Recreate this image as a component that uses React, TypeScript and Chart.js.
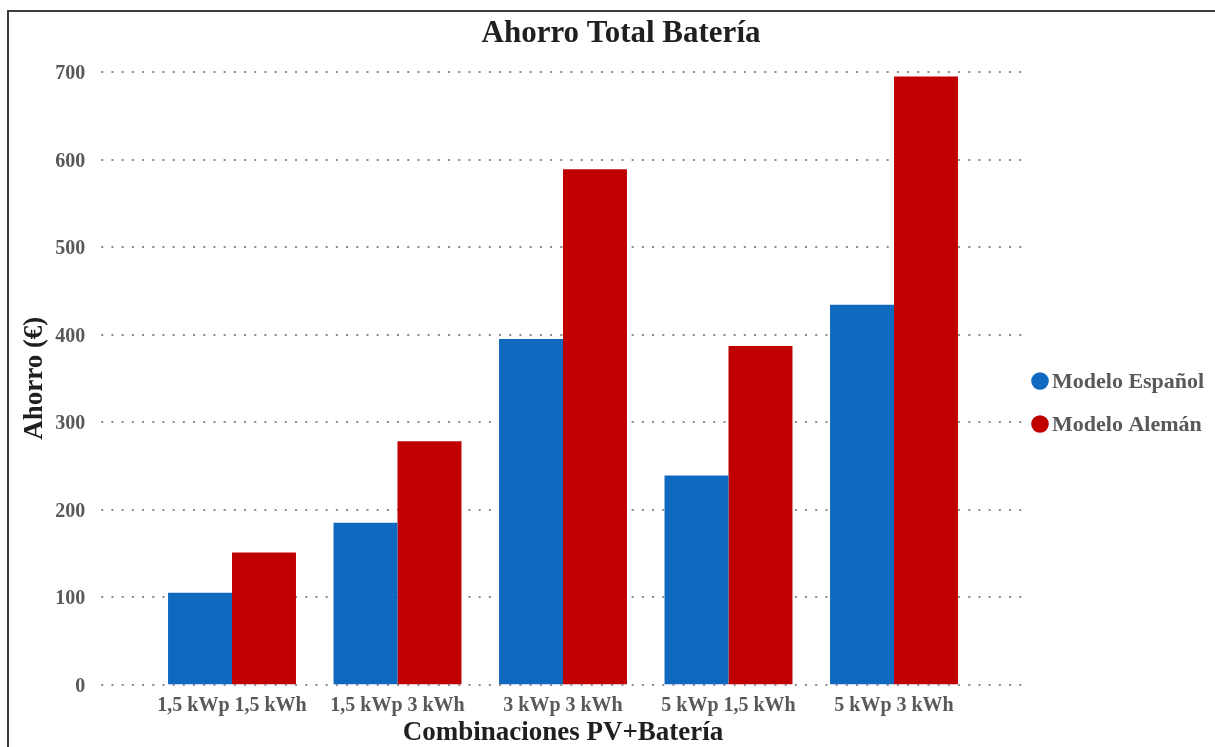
import React, { useEffect, useRef } from "react";
import { Chart, registerables } from "chart.js";

Chart.register(...registerables);

// Savings per PV + battery combination, in euros
const categories = [
  "1,5 kWp 1,5 kWh",
  "1,5 kWp 3 kWh",
  "3 kWp 3 kWh",
  "5 kWp 1,5 kWh",
  "5 kWp 3 kWh",
];
const modeloEspanol = [105, 185, 395, 239, 434];
const modeloAleman = [151, 278, 589, 387, 695];
const seriesLabels = ["Modelo Español", "Modelo Alemán"];
const seriesColors = ["#0F69BF", "#C00000"];
const chartTitle = "Ahorro Total Batería";

const FONT = "'Liberation Serif', 'Times New Roman', serif";
const TICK_COLOR = "#595959";
const TITLE_COLOR = "#1f1f1f";

// Dotted horizontal guides that run a little past the plotting area
const dottedGrid = {
  id: "dottedGrid",
  drawLine(chart: any, value: number) {
    const { ctx, chartArea, scales } = chart;
    const y = Math.round(scales.y.getPixelForValue(value));
    ctx.save();
    ctx.strokeStyle = "#8c8c8c";
    ctx.lineWidth = 2;
    ctx.setLineDash([2, 8.2]);
    ctx.beginPath();
    ctx.moveTo(chartArea.left - 48, y);
    ctx.lineTo(chartArea.right + 49, y);
    ctx.stroke();
    ctx.restore();
  },
  beforeDatasetsDraw(chart: any) {
    chart.scales.y.ticks.forEach((t: any) => {
      if (t.value !== 0) this.drawLine(chart, t.value);
    });
  },
  afterDatasetsDraw(chart: any) {
    this.drawLine(chart, 0);
  },
};

// Title centred over the whole figure, legend column on the right
const headerAndLegend = {
  id: "headerAndLegend",
  afterDraw(chart: any) {
    const { ctx } = chart;
    ctx.save();
    ctx.fillStyle = TITLE_COLOR;
    ctx.font = `bold 31px ${FONT}`;
    ctx.textAlign = "center";
    ctx.textBaseline = "middle";
    ctx.fillText(chartTitle, 621, 33.5);

    const x = 1040;
    const rows = [381, 424];
    chart.data.datasets.forEach((ds: any, i: number) => {
      const y = rows[i];
      ctx.fillStyle = ds.backgroundColor;
      ctx.beginPath();
      ctx.arc(x, y, 8.8, 0, Math.PI * 2);
      ctx.fill();
      ctx.fillStyle = TICK_COLOR;
      ctx.font = `bold 22px ${FONT}`;
      ctx.textBaseline = "middle";
      ctx.textAlign = "left";
      ctx.fillText(ds.label, x + 12, y + 1);
    });
    ctx.restore();
  },
};

export default function App() {
  const canvasRef = useRef<HTMLCanvasElement>(null);

  useEffect(() => {
    const canvas = canvasRef.current;
    if (!canvas) return;
    const chart = new Chart(canvas, {
      type: "bar",
      data: {
        labels: categories,
        datasets: [
          {
            label: seriesLabels[0],
            data: modeloEspanol,
            backgroundColor: seriesColors[0],
            borderWidth: 0,
          },
          {
            label: seriesLabels[1],
            data: modeloAleman,
            backgroundColor: seriesColors[1],
            borderWidth: 0,
          },
        ],
      },
      options: {
        responsive: false,
        animation: false,
        layout: { padding: { left: 0, right: 238.25, top: 72, bottom: 0 } },
        datasets: {
          bar: { categoryPercentage: 0.773, barPercentage: 1 },
        },
        plugins: {
          legend: { display: false },
          tooltip: { enabled: false },
          title: { display: false },
        },
        scales: {
          x: {
            grid: { display: false, drawTicks: false },
            border: { display: false },
            ticks: {
              color: TICK_COLOR,
              font: { family: FONT, size: 20, weight: "bold" },
              padding: 9.5,
              maxRotation: 0,
              autoSkip: false,
            },
            title: {
              display: true,
              text: "Combinaciones PV+Batería",
              color: TITLE_COLOR,
              font: { family: FONT, size: 27, weight: "bold" },
              padding: { top: 0, bottom: -2 },
            },
            afterFit(scale: any) {
              scale.height = 62.5;
            },
          },
          y: {
            min: 0,
            max: 700,
            grid: { display: false, drawTicks: false },
            border: { display: false },
            ticks: {
              stepSize: 100,
              color: TICK_COLOR,
              font: { family: FONT, size: 20, weight: "bold" },
              padding: 64,
              labelOffset: 2,
            },
            title: {
              display: true,
              text: "Ahorro (€)",
              color: TITLE_COLOR,
              font: { family: FONT, size: 27, weight: "bold" },
              padding: { top: 19, bottom: 0 },
            },
            afterFit(scale: any) {
              scale.width = 149.25;
              scale.paddingTop = 12;
              scale.paddingBottom = 12;
            },
          },
        },
      },
      plugins: [dottedGrid, headerAndLegend],
    });
    return () => chart.destroy();
  }, []);

  return (
    <>
      <div
        style={{
          position: "fixed",
          left: 7,
          top: 10,
          width: 1260,
          height: 800,
          border: "2px solid #3c3c3c",
          boxSizing: "border-box",
        }}
      />
      <canvas
        ref={canvasRef}
        width={1215}
        height={747}
        style={{ position: "fixed", left: 0, top: 0, width: 1215, height: 747 }}
      />
    </>
  );
}
